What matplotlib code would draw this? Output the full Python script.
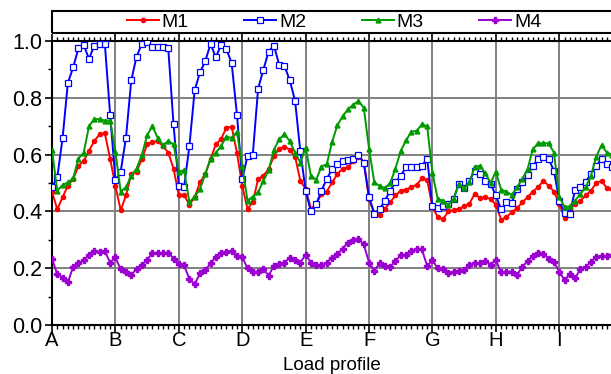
import numpy as np
import matplotlib
matplotlib.use("Agg")
import matplotlib.pyplot as plt
from matplotlib.patches import Rectangle
from matplotlib.ticker import MultipleLocator

plt.rcParams['font.family'] = ['Liberation Sans', 'DejaVu Sans']

# 12 samples per load profile
profiles = ['A', 'B', 'C', 'D', 'E', 'F', 'G', 'H', 'I']
pts_per_profile = 12

m1 = [0.47, 0.407, 0.45, 0.49, 0.514, 0.56, 0.578, 0.613, 0.648, 0.671, 0.675, 0.586,
      0.49, 0.404, 0.456, 0.531, 0.54, 0.584, 0.636, 0.644, 0.648, 0.63, 0.607, 0.551,
      0.456, 0.458, 0.423, 0.45, 0.502, 0.531, 0.584, 0.636, 0.654, 0.695, 0.698, 0.607,
      0.49, 0.409, 0.432, 0.514, 0.526, 0.549, 0.595, 0.621, 0.628, 0.617, 0.593, 0.508,
      0.479, 0.409, 0.427, 0.462, 0.47, 0.502, 0.531, 0.551, 0.555, 0.578, 0.593, 0.575,
      0.444, 0.392, 0.386, 0.409, 0.432, 0.456, 0.473, 0.477, 0.485, 0.494, 0.516, 0.51,
      0.415, 0.38, 0.372, 0.40, 0.405, 0.409, 0.418, 0.427, 0.462, 0.447, 0.45, 0.444,
      0.423, 0.371, 0.38, 0.397, 0.411, 0.432, 0.45, 0.47, 0.485, 0.508, 0.49, 0.47,
      0.427, 0.378, 0.407, 0.427, 0.438, 0.456, 0.473, 0.50, 0.508, 0.482, 0.479]

m2 = [0.486, 0.52, 0.657, 0.852, 0.907, 0.974, 0.986, 0.937, 0.984, 0.99, 0.99, 0.741,
      0.51, 0.54, 0.66, 0.861, 0.945, 0.99, 0.995, 0.98, 0.98, 0.98, 0.975, 0.706,
      0.49, 0.486, 0.63, 0.826, 0.89, 0.928, 0.99, 0.943, 0.986, 0.972, 0.922, 0.741,
      0.514, 0.595, 0.60, 0.831, 0.899, 0.963, 0.984, 0.916, 0.913, 0.861, 0.79, 0.611,
      0.473, 0.40, 0.425, 0.473, 0.514, 0.549, 0.566, 0.576, 0.581, 0.586, 0.598, 0.572,
      0.452, 0.392, 0.407, 0.438, 0.473, 0.502, 0.526, 0.555, 0.555, 0.557, 0.56, 0.586,
      0.418, 0.411, 0.418, 0.427, 0.444, 0.497, 0.481, 0.508, 0.543, 0.531, 0.508, 0.497,
      0.456, 0.407, 0.432, 0.43, 0.479, 0.502, 0.528, 0.56, 0.586, 0.592, 0.584, 0.543,
      0.438, 0.394, 0.392, 0.477, 0.486, 0.505, 0.531, 0.56, 0.586, 0.566, 0.557]

m3 = [0.615, 0.473, 0.493, 0.502, 0.516, 0.586, 0.607, 0.70, 0.725, 0.725, 0.72, 0.72,
      0.61, 0.47, 0.485, 0.526, 0.551, 0.598, 0.668, 0.70, 0.659, 0.633, 0.648, 0.636,
      0.54, 0.545, 0.432, 0.452, 0.479, 0.531, 0.586, 0.607, 0.63, 0.663, 0.659, 0.68,
      0.56, 0.438, 0.452, 0.467, 0.508, 0.545, 0.617, 0.654, 0.671, 0.648, 0.607, 0.572,
      0.625, 0.526, 0.511, 0.558, 0.566, 0.644, 0.703, 0.735, 0.759, 0.776, 0.788, 0.765,
      0.621, 0.502, 0.49, 0.482, 0.50, 0.551, 0.613, 0.65, 0.68, 0.684, 0.706, 0.70,
      0.535, 0.444, 0.438, 0.423, 0.444, 0.497, 0.481, 0.502, 0.558, 0.56, 0.535, 0.50,
      0.54, 0.476, 0.47, 0.458, 0.485, 0.514, 0.549, 0.619, 0.64, 0.64, 0.64, 0.607,
      0.452, 0.415, 0.418, 0.438, 0.462, 0.485, 0.526, 0.593, 0.633, 0.607, 0.60]

m4 = [0.234, 0.178, 0.167, 0.15, 0.205, 0.217, 0.228, 0.246, 0.26, 0.258, 0.26, 0.22,
      0.238, 0.196, 0.188, 0.176, 0.198, 0.211, 0.23, 0.252, 0.255, 0.252, 0.255, 0.234,
      0.214, 0.21, 0.162, 0.143, 0.182, 0.193, 0.217, 0.24, 0.252, 0.258, 0.26, 0.243,
      0.24, 0.199, 0.188, 0.188, 0.198, 0.174, 0.209, 0.214, 0.22, 0.237, 0.23, 0.22,
      0.248, 0.22, 0.211, 0.211, 0.22, 0.237, 0.249, 0.269, 0.29, 0.298, 0.302, 0.284,
      0.22, 0.191, 0.217, 0.208, 0.205, 0.225, 0.246, 0.248, 0.261, 0.266, 0.266, 0.208,
      0.228, 0.199, 0.196, 0.184, 0.188, 0.191, 0.193, 0.213, 0.217, 0.217, 0.225, 0.213,
      0.228, 0.185, 0.188, 0.188, 0.176, 0.205, 0.225, 0.243, 0.252, 0.25, 0.234, 0.222,
      0.188, 0.158, 0.178, 0.164, 0.198, 0.205, 0.222, 0.24, 0.243, 0.243, 0.246]

x = np.arange(len(m1))

fig = plt.figure(figsize=(6.11, 3.74), dpi=100)
# axes runs past the right edge of the figure, like the original
ax = fig.add_axes([0.0851, 1 - 325 / 374, 0.934, 284 / 374])

ax.plot(x, m1, color='#ff0000', lw=1.4, marker='o', ms=3, label='M1', zorder=3)
ax.plot(x, m2, color='#0000ff', lw=1.4, marker='s', ms=4.2, mfc='white', mec='#0000ff',
        mew=0.9, label='M2', zorder=3)
ax.plot(x, m3, color='#009a00', lw=1.4, marker='^', ms=3.5, label='M3', zorder=3)
ax.plot(x, m4, color='#9a00d0', lw=1.4, marker='P', ms=4, label='M4', zorder=3)

ax.set_xlim(0, len(profiles) * pts_per_profile)
ax.set_ylim(0, 1.0)
ax.set_xticks(np.arange(len(profiles)) * pts_per_profile)
ax.set_xticklabels(profiles, fontsize=14.5)
ax.xaxis.set_minor_locator(MultipleLocator(1))
ax.yaxis.set_major_locator(MultipleLocator(0.2))
ax.yaxis.set_minor_locator(MultipleLocator(0.1))
ax.set_yticklabels(['%.1f' % v for v in ax.get_yticks()], fontsize=15.5)

ax.grid(True, which='major', color='#808080', lw=1.4, zorder=0)
ax.tick_params(axis='x', which='both', direction='out', top=True, bottom=True)
ax.tick_params(axis='x', which='major', length=5, width=1.2, pad=-0.5)
ax.tick_params(axis='x', which='minor', length=3, width=1)
ax.tick_params(axis='y', which='major', length=5, width=1.2, pad=2)
ax.tick_params(axis='y', which='minor', length=3, width=1)
for s in ax.spines.values():
    s.set_linewidth(1.5)
    s.set_color('black')

# x label placed at the bottom edge of the figure
fig.text(332 / 611, 0.5 / 374, 'Load profile', fontsize=13.5, ha='center', va='bottom')

# legend box across the top
fig.patches.append(Rectangle((0.0851, 1 - 33 / 374), 1.0, 22 / 374, transform=fig.transFigure,
                             fill=False, ec='black', lw=1.5))
fig.legend(loc='center', bbox_to_anchor=(334 / 611, 1 - 22 / 374), ncol=4, frameon=False,
           fontsize=14, handlelength=1.65, handletextpad=0.15, columnspacing=2.85,
           borderaxespad=0)

fig.savefig('out.png', dpi=100)
